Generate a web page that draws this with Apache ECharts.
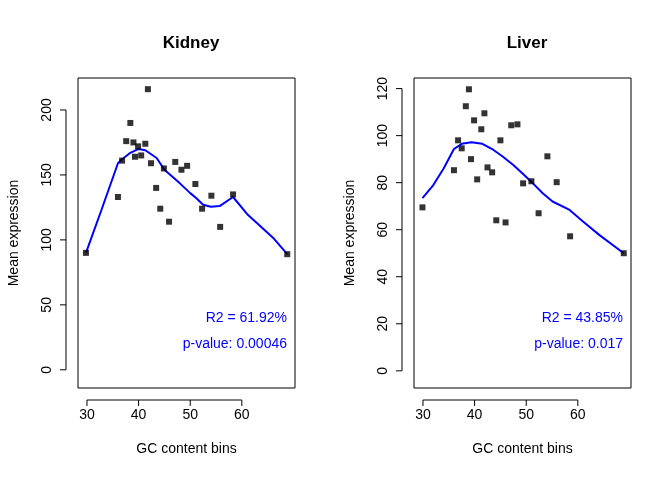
<!DOCTYPE html>
<html>
<head>
<meta charset="utf-8">
<script src="https://cdn.jsdelivr.net/npm/echarts@6/dist/echarts.min.js"></script>
<style>html,body{margin:0;padding:0;background:#fff}#chart{width:672px;height:480px}</style>
</head>
<body>
<div id="chart"></div>
<script>
var xTicks = [30, 40, 50, 60];
var kidneyYTicks = [0, 50, 100, 150, 200];
var liverYTicks = [0, 20, 40, 60, 80, 100, 120];

var kidneyPoints = [[29.8,90],[36.0,133],[36.8,161],[37.6,176],[38.4,190],[39.0,175],[39.3,164],[39.9,172],
  [40.5,165],[41.3,174],[41.8,216],[42.4,159],[43.4,140],[44.2,124],[44.9,155],[45.9,114],[47.1,160],
  [48.3,154],[49.4,157],[51.0,143],[52.3,124],[54.1,134],[55.8,110],[58.3,135],[68.8,89]];
var kidneyFit = [[29.8,90],[32.8,123],[36,159],[36.8,162],[38.4,167],[40,170],[41.3,169],[43.5,163],[45,154],
  [48,143.5],[50,136],[51.2,132],[52.5,127],[54,125.5],[55.7,126],[58.3,133],[61,120],[66.2,101],[68.8,89]];

var liverPoints = [[29.9,69.5],[36.0,85.3],[36.8,98],[37.5,94.6],[38.3,112.5],[38.9,119.7],[39.3,90],[39.9,106.5],
  [40.5,81.4],[41.3,102.7],[41.9,109.5],[42.5,86.5],[43.4,84.4],[44.2,64],[45.0,98],[46.0,63.1],[47.1,104.4],
  [48.3,104.8],[49.4,79.7],[51.0,80.6],[52.4,67],[54.1,91.2],[55.9,80.2],[58.5,57.2],[68.9,50]];
var liverFit = [[29.9,73.4],[32,79],[34,86],[36,94.3],[37.5,96.5],[39.4,97.2],[41.5,96.5],[43.6,94],[45.5,91],
  [47.5,87.5],[49.5,83.5],[51.3,79.7],[53.2,75.5],[55.1,72],[58.4,68.4],[61,63.5],[64.2,57.7],[68.9,50]];

var chart = echarts.init(document.getElementById('chart'));
var font = 'Liberation Sans, Arial, sans-serif';

function xAx(i) {
    return {
        gridIndex: i, type: 'value', min: 28.26, max: 70.3,
        axisLine: {show: false}, splitLine: {show: false}, axisTick: {show: false},
        axisLabel: {customValues: xTicks, color: '#000', fontSize: 14, fontFamily: font, margin: 20},
        name: 'GC content bins', nameLocation: 'middle', nameGap: 54,
        nameTextStyle: {color: '#000', fontSize: 14, fontFamily: font}
    };
}
function yAx(i, min, max, ticks) {
    return {
        gridIndex: i, type: 'value', min: min, max: max,
        axisLine: {show: false}, splitLine: {show: false}, axisTick: {show: false},
        axisLabel: {customValues: ticks, color: '#000', fontSize: 14, fontFamily: font, rotate: 90, margin: 24},
        name: 'Mean expression', nameLocation: 'middle', nameGap: 57,
        nameTextStyle: {color: '#000', fontSize: 14, fontFamily: font}
    };
}
function scat(i, d) {
    return {type: 'scatter', xAxisIndex: i, yAxisIndex: i, data: d, symbol: 'rect', symbolSize: 6,
        itemStyle: {color: '#000'}, z: 3};
}
function fit(i, d) {
    return {type: 'line', xAxisIndex: i, yAxisIndex: i, data: d, showSymbol: false, smooth: false,
        lineStyle: {color: '#0000ff', width: 2}, z: 2};
}
var ann = {color: '#0000ff', fontSize: 14, fontWeight: 'normal', fontFamily: font};
var ttl = {color: '#000', fontSize: 17, fontWeight: 'bold', fontFamily: font};

chart.setOption({
    animation: false,
    grid: [
        {left: 78, top: 78, width: 217, height: 310, show: true, borderColor: '#000', borderWidth: 1},
        {left: 414, top: 78, width: 217, height: 310, show: true, borderColor: '#000', borderWidth: 1}
    ],
    title: [
        {text: 'Kidney', left: 186, top: 30, textAlign: 'center', textStyle: ttl},
        {text: 'Liver', left: 522, top: 30, textAlign: 'center', textStyle: ttl},
        {text: 'R2 = 61.92%', right: 380, top: 306, textStyle: ann},
        {text: 'p-value: 0.00046', right: 380, top: 332, textStyle: ann},
        {text: 'R2 = 43.85%', right: 44, top: 306, textStyle: ann},
        {text: 'p-value: 0.017', right: 44, top: 332, textStyle: ann}
    ],
    xAxis: [xAx(0), xAx(1)],
    yAxis: [yAx(0, -14, 224.6, kidneyYTicks), yAx(1, -7.3, 124.5, liverYTicks)],
    series: [scat(0, kidneyPoints), fit(0, kidneyFit), scat(1, liverPoints), fit(1, liverFit)]
});

// R-style axis spines and ticks, spanning first to last tick
var g = [];
function seg(x1, y1, x2, y2) {
    g.push({type: 'line', shape: {x1: x1, y1: y1, x2: x2, y2: y2}, style: {stroke: '#000', lineWidth: 1}});
}
[[0, kidneyYTicks], [1, liverYTicks]].forEach(function (p) {
    var i = p[0], yt = p[1];
    var left = i === 0 ? 66 : 402, bottom = 400;
    var a = chart.convertToPixel({gridIndex: i}, [xTicks[0], yt[0]]);
    var b = chart.convertToPixel({gridIndex: i}, [xTicks[xTicks.length - 1], yt[yt.length - 1]]);
    seg(a[0], bottom, b[0], bottom);
    seg(left, a[1], left, b[1]);
    xTicks.forEach(function (v) {
        var px = chart.convertToPixel({gridIndex: i}, [v, yt[0]]);
        seg(px[0], bottom, px[0], bottom + 6);
    });
    yt.forEach(function (v) {
        var px = chart.convertToPixel({gridIndex: i}, [xTicks[0], v]);
        seg(left, px[1], left - 6, px[1]);
    });
});
chart.setOption({graphic: g});
</script>
</body>
</html>
